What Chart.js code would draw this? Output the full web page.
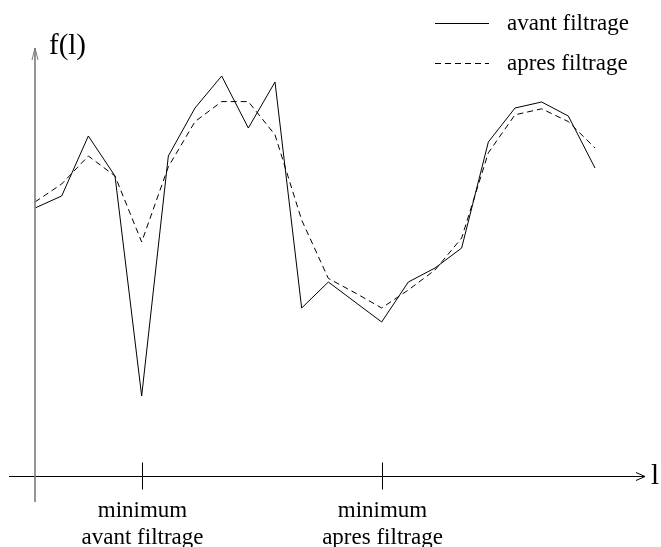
<!DOCTYPE html>
<html>
<head>
<meta charset="utf-8">
<script src="https://cdn.jsdelivr.net/npm/chart.js@4"></script>
<style>
  html, body { margin: 0; padding: 0; background: #fff; }
  #wrap { width: 661px; height: 547px; }
</style>
</head>
<body>
<div id="wrap"><canvas id="myChart" width="661" height="547"></canvas></div>
<script>
// l positions (samples)
var lValues = [0, 1, 2, 3, 4, 5, 6, 7, 8, 9, 10, 11, 12, 13, 14, 15, 16, 17, 18, 19, 20, 21];
// f(l) before filtering
var avantValues = [67, 70, 85, 75, 20, 80, 92, 100, 87, 98.5, 42, 48.5, 43.5, 38.5, 48.5, 52, 57, 83.5, 92, 93.5, 90, 77];
// f(l) after filtering
var apresValues = [68.5, 73, 80, 75, 58.5, 77.3, 88.6, 93.6, 93.6, 85.3, 64, 49.4, 45.8, 42, 46.5, 51.5, 59.5, 80.8, 90.3, 91.8, 88.6, 82];
// marked positions on the l axis
var tickPositions = [4, 13];
var tickLabels = [['minimum', 'avant filtrage'], ['minimum', 'apres filtrage']];

function toPoints(vals) {
    return vals.map(function (v, i) { return { x: lValues[i], y: v }; });
}

var serif = '"Liberation Serif", "DejaVu Serif", serif';

var axesPlugin = {
    id: 'axes',
    afterDatasetsDraw: function (chart) {
        var ctx = chart.ctx;
        var xs = chart.scales.x, ys = chart.scales.y;
        var x0 = Math.round(xs.getPixelForValue(0));
        var y0 = Math.round(ys.getPixelForValue(0)) + 0.5;
        ctx.save();
        ctx.strokeStyle = '#000';
        ctx.lineWidth = 1;

        // horizontal axis with arrow
        ctx.beginPath();
        ctx.moveTo(xs.left, y0);
        ctx.lineTo(xs.right, y0);
        ctx.moveTo(xs.right - 9, y0 - 4);
        ctx.lineTo(xs.right, y0);
        ctx.lineTo(xs.right - 9, y0 + 4);
        ctx.stroke();

        // vertical axis with arrow (soft grey, as in the scan)
        ctx.strokeStyle = '#7a7a7a';
        ctx.lineWidth = 1.6;
        ctx.beginPath();
        ctx.moveTo(x0, ys.bottom);
        ctx.lineTo(x0, ys.top);
        ctx.stroke();
        ctx.lineWidth = 1;
        ctx.beginPath();
        ctx.moveTo(x0 - 3, ys.top + 12);
        ctx.lineTo(x0, ys.top);
        ctx.lineTo(x0 + 3, ys.top + 12);
        ctx.stroke();
        ctx.strokeStyle = '#000';

        // tick marks and their labels
        ctx.fillStyle = '#000';
        ctx.font = '23px ' + serif;
        ctx.textAlign = 'center';
        ctx.textBaseline = 'middle';
        tickPositions.forEach(function (p, i) {
            var px = Math.round(xs.getPixelForValue(p)) + 0.5;
            ctx.beginPath();
            ctx.moveTo(px, y0 - 14);
            ctx.lineTo(px, y0 + 13);
            ctx.stroke();
            tickLabels[i].forEach(function (t, j) {
                ctx.fillText(t, px, y0 + 34 + j * 27);
            });
        });

        // axis names
        ctx.font = '29px ' + serif;
        ctx.textAlign = 'left';
        ctx.fillText('f(l)', 49, 46);
        ctx.fillText('l', 651, y0);

        // legend
        ctx.font = '23px ' + serif;
        chart.data.datasets.forEach(function (ds, i) {
            var ly = 23 + i * 40 + 0.5;
            ctx.setLineDash(ds.borderDash || []);
            ctx.beginPath();
            ctx.moveTo(435, ly);
            ctx.lineTo(489, ly);
            ctx.stroke();
            ctx.setLineDash([]);
            ctx.fillText(ds.label, 507, ly);
        });
        ctx.restore();
    }
};

var ctx = document.getElementById('myChart').getContext('2d');
var myChart = new Chart(ctx, {
    type: 'line',
    data: {
        datasets: [{
            label: 'avant filtrage',
            data: toPoints(avantValues),
            borderColor: '#000',
            borderWidth: 1,
            pointRadius: 0,
            tension: 0,
            fill: false
        }, {
            label: 'apres filtrage',
            data: toPoints(apresValues),
            borderColor: '#000',
            borderWidth: 1,
            borderDash: [6, 4],
            pointRadius: 0,
            tension: 0,
            fill: false
        }]
    },
    options: {
        responsive: false,
        animation: false,
        layout: {
            padding: { left: 9, right: 16, top: 48, bottom: 45 }
        },
        plugins: {
            legend: { display: false },
            tooltip: { enabled: false }
        },
        scales: {
            x: { type: 'linear', display: false, min: -0.975, max: 22.875 },
            y: { type: 'linear', display: false, min: -6.5, max: 107 }
        }
    },
    plugins: [axesPlugin]
});
</script>
</body>
</html>
